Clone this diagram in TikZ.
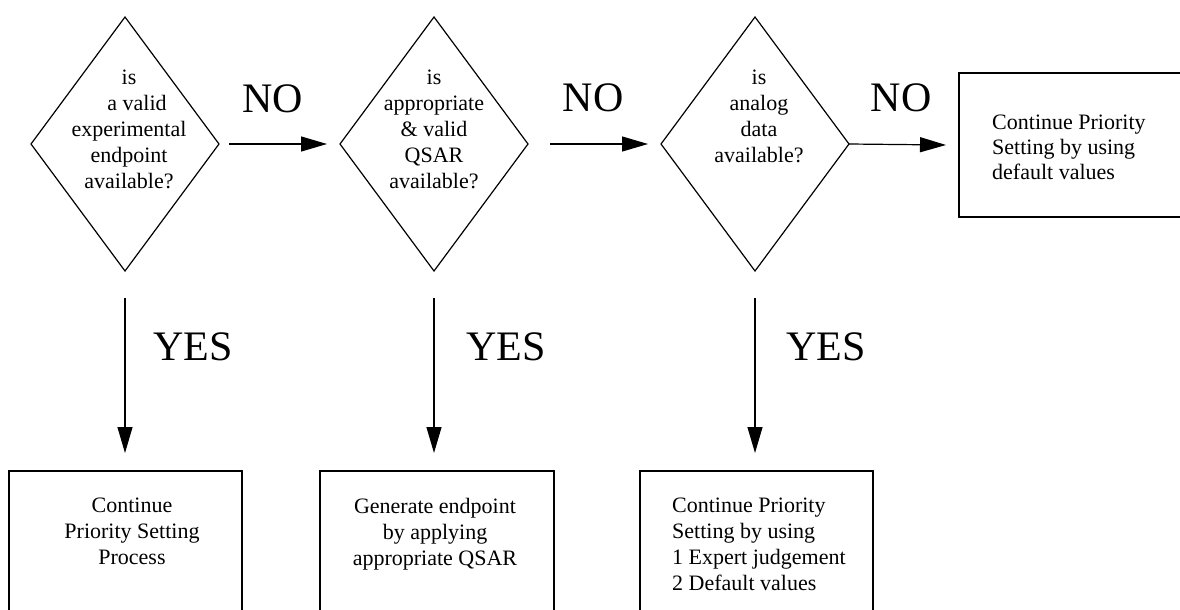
\documentclass[tikz,border=0pt]{standalone}
\usepackage{fontspec}
\setmainfont{Liberation Serif}
\usetikzlibrary{shapes.geometric,arrows.meta}
\begin{document}
\begin{tikzpicture}[x=1pt,y=-1pt,
  dia/.style={draw,shape=diamond,line width=1.2pt,inner sep=0pt,outer sep=0pt,
    minimum width=188pt,minimum height=254pt},
  box/.style={draw,rectangle,line width=1.4pt,inner sep=0pt,outer sep=0pt},
  arr/.style={line width=1.2pt,-{Triangle[length=26pt,width=15pt]}},
  txt/.style={inner sep=0pt,font=\fontsize{22}{26}\selectfont},
  big/.style={inner sep=0pt,font=\fontsize{42}{48}\selectfont}]
\path[use as bounding box] (0,0) rectangle (1180,610);
\clip (0,0) rectangle (1180,610);
% decisions
\node[dia] (d1) at (125,144) {};
\node[dia] (d2) at (434,144) {};
\node[dia] (d3) at (755,144) {};
\node[txt,align=center,anchor=north] (t1) at (129,70) {is\\\hspace*{16pt}a valid\\experimental\\endpoint\\available?};
\node[txt,align=center,anchor=north] (t2) at (434,70) {is\\appropriate\\\& valid\\QSAR\\available?};
\node[txt,align=center,anchor=north] (t3) at (759,70) {is\\analog\\data\\available?};
% boxes
\node[box,minimum width=241pt,minimum height=144pt] (r) at (1079.5,145) {};
\node[box,minimum width=233pt,minimum height=169pt] (b1) at (125.5,555.5) {};
\node[box,minimum width=234pt,minimum height=169pt] (b2) at (437,555.5) {};
\node[box,minimum width=233pt,minimum height=169pt] (b3) at (756.5,555.5) {};
\node[txt,align=left,anchor=north west,font=\fontsize{22}{25}\selectfont] (rt) at (992,115) {Continue Priority\\Setting by using\\default values};
\node[txt,align=center,anchor=north] (bt1) at (132,498) {Continue\\Priority Setting\\Process};
\node[txt,align=center,anchor=north] (bt2) at (435,498) {Generate endpoint\\by applying\\appropriate QSAR};
\node[txt,align=left,anchor=north west] (bt3) at (672,498) {Continue Priority\\Setting by using\\1 Expert judgement\\2 Default values};
% connectors
\draw[arr] ([xshift=10pt]d1.east) -- ([xshift=-13pt]d2.west);
\draw[arr] ([xshift=22pt]d2.east) -- ([xshift=-13pt]d3.west);
\draw[arr] (d3.east) -- ([xshift=-13pt]r.west);
\draw[arr] ([yshift=-27pt]d1.south) -- ([yshift=18pt]d1.south |- b1.north);
\draw[arr] ([yshift=-27pt]d2.south) -- ([yshift=18pt]d2.south |- b2.north);
\draw[arr] ([yshift=-27pt]d3.south) -- ([yshift=18pt]d3.south |- b3.north);
% labels
\node[big,anchor=base] (no1) at (273,112) {NO};
\node[big,anchor=base] (no2) at (593,111) {NO};
\node[big,anchor=base] (no3) at (901,111) {NO};
\node[big,anchor=base] (yes1) at (193,360) {YES};
\node[big,anchor=base] (yes2) at (506,360) {YES};
\node[big,anchor=base] (yes3) at (826,360) {YES};
\end{tikzpicture}
\end{document}
